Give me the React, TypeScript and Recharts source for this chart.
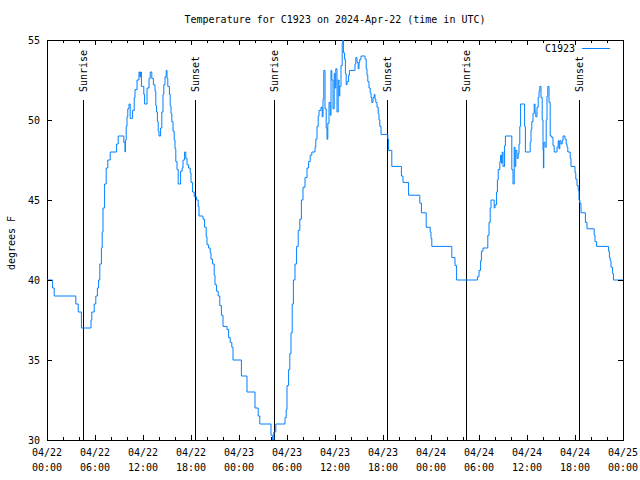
import { LineChart, Line, XAxis, YAxis, ReferenceLine, ReferenceArea } from "recharts";

// hours since 2024-04-22 00:00 UTC, and temperature (F) from that time on
const hours = [
  0, 0.7, 0.9, 3.6, 3.9, 4.3, 5.5, 5.6, 5.9, 6.1, 6.3, 6.45, 6.6, 6.8, 6.9, 7.0, 7.2, 7.4, 7.6, 7.9,
  8.7, 8.9, 9.6, 9.75, 9.8, 9.9, 10.0, 10.1, 10.25, 10.4, 10.7, 10.9, 11.0, 11.25, 11.5, 11.6, 11.7, 11.8,
  12.1, 12.2, 12.5, 12.75, 12.9, 13.1, 13.3, 13.5, 13.6, 13.7, 13.8, 13.9, 14.0, 14.2, 14.35, 14.5, 14.6,
  14.75, 14.9, 15.0, 15.1, 15.3, 15.4, 15.5, 15.6, 15.75, 15.9, 16.0, 16.1, 16.25, 16.4, 16.7, 16.9, 17.0,
  17.2, 17.35, 17.5, 17.7, 17.9, 18.0, 18.2, 18.4, 18.7, 18.9, 19.0, 19.5, 19.7, 19.9, 20.0, 20.2, 20.4,
  20.5, 20.7, 20.9, 21.0, 21.2, 21.4, 21.6, 21.8, 22.0, 22.5, 22.7, 22.9, 23.1, 23.25,
  24.3, 25.0, 26.0, 26.4, 26.6, 28.0, 28.2, 28.35, 28.6, 29.75, 29.9, 30.0, 30.2, 30.35, 30.5, 30.65, 30.8,
  31.0, 31.2, 31.4, 31.6, 31.8, 32.0, 32.25, 32.5, 32.7, 32.9, 33.1, 33.5, 33.6, 33.75, 33.9, 34.0, 34.25,
  34.4, 34.5, 34.6, 34.75, 34.9, 35.0, 35.1, 35.25, 35.4, 35.5, 35.6, 35.75, 35.9, 36.0, 36.1, 36.25, 36.4,
  36.5, 36.6, 36.75, 36.9, 36.96, 37.05, 37.2, 37.3, 37.4, 37.5, 37.7, 37.8, 38.5, 38.6, 38.75, 38.9, 39.0,
  39.1, 39.25, 39.75, 39.9, 40.0, 40.1, 40.25, 40.4, 40.5, 40.6, 40.75, 40.9, 41.0, 41.1, 41.25, 41.4,
  41.5, 41.6, 41.75, 42.6, 42.7, 43.1, 44.3, 44.5, 45.2, 46.6, 46.8, 47.4, 47.9, 48.0, 48.1, 50.6, 51.0,
  51.2,
  53.8, 54.0, 54.2, 54.3, 54.5, 55.1, 55.25, 55.4, 55.5, 55.9, 56.0, 56.2, 56.3, 56.4, 56.6, 56.7, 56.8,
  56.9, 57.0, 57.2, 57.3, 58.0, 58.1, 58.25, 58.4, 58.5, 58.6, 58.75, 58.9, 59.0, 59.1, 59.2, 59.6, 59.7,
  59.8, 60.3, 60.4, 60.5, 60.6, 60.75, 60.9, 61.0, 61.1, 61.25, 61.4, 61.5, 61.6, 61.75, 61.9, 62.0, 62.05,
  62.1, 62.25, 62.4, 62.5, 62.6, 62.75, 62.9, 63.1, 63.25, 63.4, 63.75, 63.9, 64.0, 64.1, 64.25, 64.4,
  64.5, 64.75, 64.9, 65.0, 65.1, 65.4, 65.5, 66.0, 66.1, 66.25, 66.4, 66.5, 66.6, 66.75, 67.3, 67.5, 68.4,
  68.5, 68.7, 70.2, 70.3, 70.4, 70.5, 70.7, 70.8, 72,
];

const tempF = [
  40, 39.5, 39, 38.5, 38, 37, 37.5, 38, 38.5, 39, 39.5, 40, 41, 42, 43, 44.5, 46, 47, 47.5, 48,
  48.5, 49, 48.6, 48, 48.75, 49.6, 50.2, 50.7, 51, 50.1, 50.6, 51.4, 51.9, 52.5, 53, 52.7, 53, 52.1,
  51.6, 51, 52, 52.6, 53, 52.6, 52.2, 51.8, 50.9, 50.5, 49.9, 49.3, 49, 49.5, 50.5, 51.6, 52.2,
  52.7, 53.1, 52.6, 52.1, 51.6, 50.9, 50.4, 49.9, 49.3, 48.75, 48.2, 47.4, 46.9, 46, 46.8, 47, 47.5,
  48, 47.6, 47.2, 47, 46.7, 46.1, 45.5, 45.2, 45, 44.6, 44, 43.8, 43.3, 42.7, 42.2, 42, 41.7,
  41.3, 41, 40.3, 39.7, 39.3, 39, 38.4, 37.8, 37.1, 36.9, 36.4, 36.1, 35.8, 35,
  34, 33, 32, 31.5, 31, 30.3, 30, 30.5, 31, 31.4, 31.9, 33.4, 34.4, 35.4, 36.7, 38.5, 40,
  41, 42.1, 43.1, 43.8, 45, 45.8, 46.4, 47, 47.4, 47.8, 48, 48.3, 48.8, 49.6, 50.25, 50.6, 50.8,
  50.2, 51.3, 53.1, 50.7, 49.5, 48.8, 49.8, 51.1, 50.3, 53.1, 52.5, 50.7, 52.9, 52, 53.2, 50.5, 52.5,
  51.5, 52.1, 53.4, 54.8, 55, 54.2, 53.8, 52.9, 52.2, 52.4, 52.8, 53.1, 53.5, 53.9, 53.6, 53.2, 53.6,
  53.8, 54, 53.8, 53.2, 52.8, 52.4, 52, 51.7, 51.4, 51.1, 51.4, 51.6, 51.3, 51.1, 50.8, 50.4,
  50, 49.6, 49.1, 48.8, 48.1, 47.1, 46.5, 46.1, 45.3, 44.8, 44.2, 43.3, 43, 42.6, 42.1, 41.4, 40.9,
  40,
  40.2, 40.6, 41.2, 41.8, 42, 42.8, 43.6, 44.5, 45, 44.5, 44.7, 45.5, 46.25, 46.9, 47.4, 47.8, 47.3,
  48, 47.1, 48.4, 49, 49, 46.9, 46, 48.3, 47.1, 48.1, 47.6, 47.9, 48.5, 49.6, 51, 51, 49.6,
  48, 48, 48.6, 49.4, 49.9, 50.4, 51, 50.5, 50.2, 50.8, 51.4, 51.8, 52.1, 51.4, 50, 48.1, 47,
  48.6, 48.3, 50, 51.5, 52.1, 51.1, 49, 48.9, 48.4, 48, 48.3, 48.7, 48.2, 48.7, 48.5, 48.7,
  49, 48.8, 48.5, 48.3, 48, 47.6, 47.1, 46.7, 46.3, 45.9, 45.6, 45, 44.8, 44.2, 43.6, 43.2, 42.8,
  42.4, 42.1, 41.8, 41.4, 41.2, 40.8, 40.4, 40, 40,
];

const sunrise = [4.5, 28.4, 52.4];
const sunset = [18.5, 42.5, 66.5];

const xTicks = [0, 2, 4, 6, 8, 10, 12, 14, 16, 18, 20, 22, 24, 26, 28, 30, 32, 34, 36, 38, 40, 42, 44, 46, 48, 50, 52, 54, 56, 58, 60, 62, 64, 66, 68, 70, 72];
const dateLabels = ["04/22", "04/22", "04/22", "04/22", "04/23", "04/23", "04/23", "04/23", "04/24", "04/24", "04/24", "04/24", "04/25"];
const timeLabels = ["00:00", "06:00", "12:00", "18:00", "00:00", "06:00", "12:00", "18:00", "00:00", "06:00", "12:00", "18:00", "00:00"];
const yTicks = [30, 35, 40, 45, 50, 55];

const data = hours.map((h, i) => ({ h, t: tempF[i] }));

const FONT = "'DejaVu Sans Mono', monospace";
const LINE_COLOR = "#0080ff";
const PLOT_TOP = 40;
const PLOT_BOTTOM = 440;
const PLOT_LEFT = 47;
const PLOT_RIGHT = 623;
const SUN_LINE_TOP = 51.25;

const XTick = ({ x, payload }: any) => {
  const v = payload.value;
  const major = v % 6 === 0;
  const len = major ? 5 : 3;
  const i = v / 6;
  return (
    <g>
      <line x1={x} x2={x} y1={PLOT_BOTTOM} y2={PLOT_BOTTOM - len} stroke="#000" shapeRendering="crispEdges" />
      <line x1={x} x2={x} y1={PLOT_TOP} y2={PLOT_TOP + len} stroke="#000" shapeRendering="crispEdges" />
      {major && (
        <text x={x} y={PLOT_BOTTOM + 16} textAnchor="middle" fontFamily={FONT} fontSize={10} fill="#000">
          <tspan x={x}>{dateLabels[i]}</tspan>
          <tspan x={x} dy={15}>{timeLabels[i]}</tspan>
        </text>
      )}
    </g>
  );
};

const YTick = ({ y, payload }: any) => (
  <g>
    <line x1={PLOT_LEFT} x2={PLOT_LEFT + 5} y1={y} y2={y} stroke="#000" shapeRendering="crispEdges" />
    <line x1={PLOT_RIGHT} x2={PLOT_RIGHT - 5} y1={y} y2={y} stroke="#000" shapeRendering="crispEdges" />
    <text x={PLOT_LEFT - 7} y={y} dy="0.35em" textAnchor="end" fontFamily={FONT} fontSize={10} fill="#000">
      {payload.value}
    </text>
  </g>
);

const sunLabel = (text: string) => (props: any) => {
  const vb = props.viewBox || {};
  const x = vb.x;
  const y = vb.y - 8;
  return (
    <text
      x={x}
      y={y}
      transform={`rotate(-90 ${x} ${y})`}
      dominantBaseline="central"
      textAnchor="start"
      fontFamily={FONT}
      fontSize={10}
      fill="#000"
    >
      {text}
    </text>
  );
};

export default function App() {
  return (
    <div style={{ position: "absolute", left: 0, top: 0, width: 640, height: 480, background: "#fff" }}>
      <LineChart width={640} height={480} data={data} margin={{ top: 40, right: 17, bottom: 0, left: 0 }}>
        <XAxis
          dataKey="h"
          type="number"
          domain={[0, 72]}
          ticks={xTicks}
          interval={0}
          tick={<XTick />}
          tickLine={false}
          axisLine={false}
          height={40}
          allowDataOverflow
        />
        <YAxis
          type="number"
          domain={[30, 55]}
          ticks={yTicks}
          interval={0}
          tick={<YTick />}
          tickLine={false}
          axisLine={false}
          width={47}
          allowDataOverflow
        />
        <ReferenceArea x1={0} x2={72} y1={30} y2={55} fill="none" fillOpacity={0} stroke="#000" strokeWidth={1} ifOverflow="visible" shapeRendering="crispEdges" />
        {sunrise.map((t) => (
          <ReferenceLine
            key={`sr${t}`}
            segment={[{ x: t, y: 30 }, { x: t, y: SUN_LINE_TOP }]}
            stroke="#000"
            strokeWidth={1}
            shapeRendering="crispEdges"
            label={sunLabel("Sunrise")}
          />
        ))}
        {sunset.map((t) => (
          <ReferenceLine
            key={`ss${t}`}
            segment={[{ x: t, y: 30 }, { x: t, y: SUN_LINE_TOP }]}
            stroke="#000"
            strokeWidth={1}
            shapeRendering="crispEdges"
            label={sunLabel("Sunset")}
          />
        ))}
        <Line type="stepAfter" dataKey="t" stroke={LINE_COLOR} strokeWidth={1} dot={false} isAnimationActive={false} />
      </LineChart>
      <svg width={640} height={480} style={{ position: "absolute", left: 0, top: 0, pointerEvents: "none" }}>
        <text x={335} y={23} textAnchor="middle" fontFamily={FONT} fontSize={10} fill="#000">
          Temperature for C1923 on 2024-Apr-22 (time in UTC)
        </text>
        <text x={11} y={243} transform="rotate(-90 11 243)" textAnchor="middle" dominantBaseline="central" fontFamily={FONT} fontSize={10} fill="#000">
          degrees F
        </text>
        <text x={575} y={52} textAnchor="end" fontFamily={FONT} fontSize={10} fill="#000">
          C1923
        </text>
        <line x1={582} x2={610} y1={48.5} y2={48.5} stroke={LINE_COLOR} strokeWidth={1} />
      </svg>
    </div>
  );
}
